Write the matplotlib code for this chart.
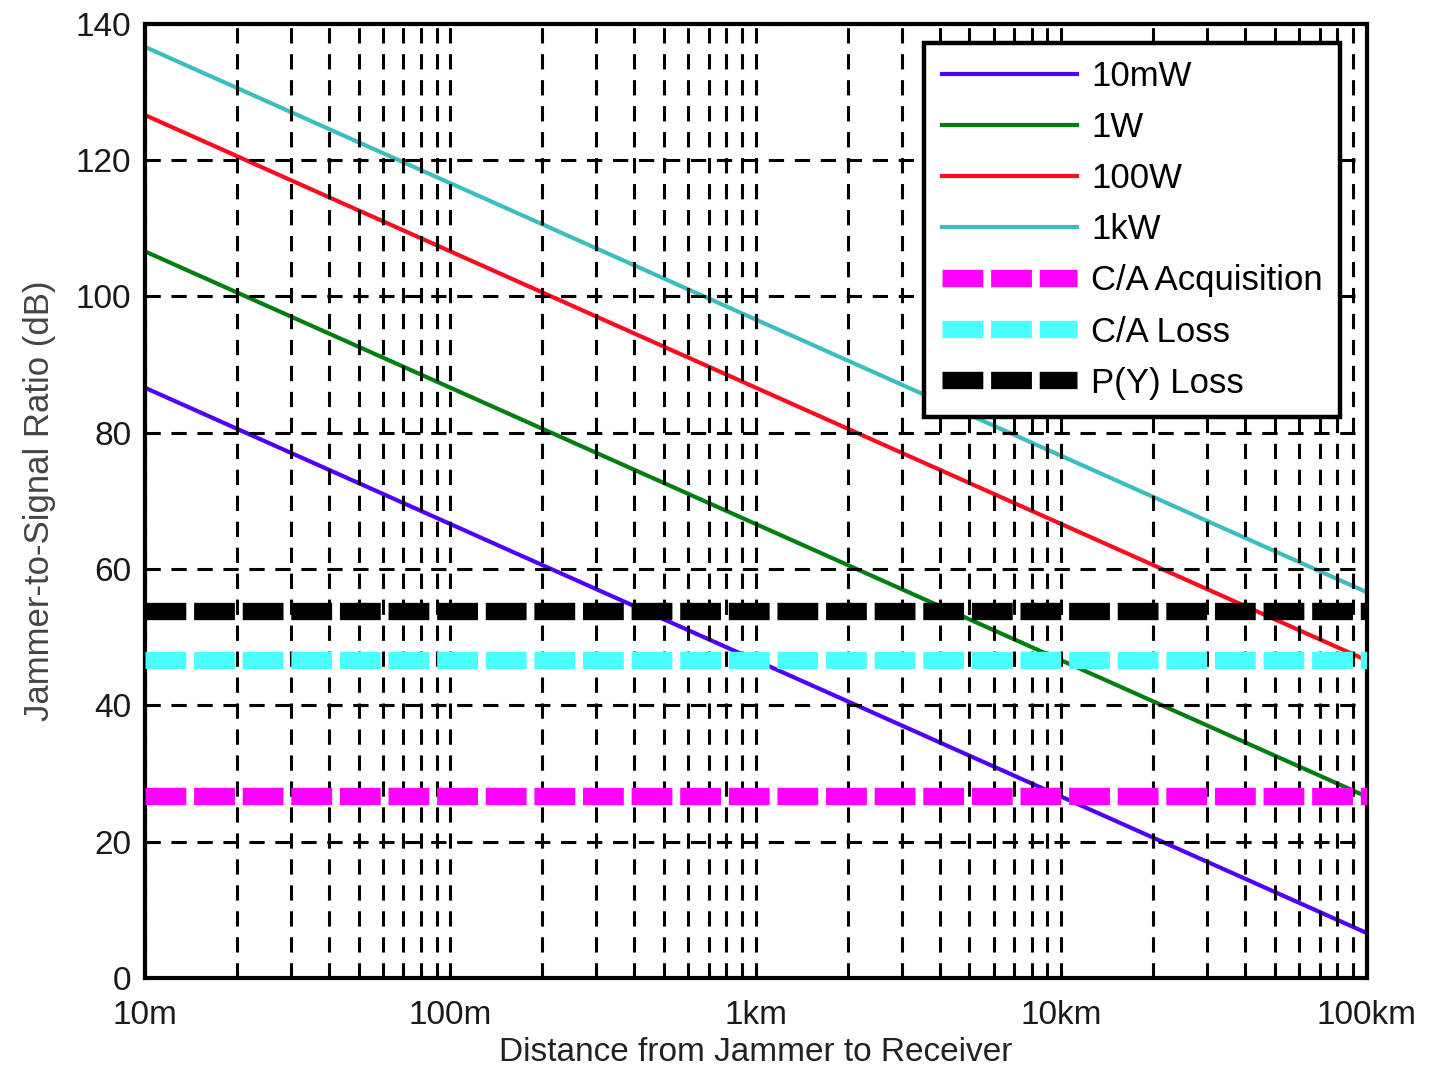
import numpy as np
from matplotlib import pyplot as plt
from matplotlib.ticker import FixedLocator, LogLocator, NullFormatter

#%% Datos

dist = [10, 100, 1000, 10000, 100000]   # metros
js_10mW = [86.6, 66.6, 46.6, 26.6, 6.6]
js_1W = [106.6, 86.6, 66.6, 46.6, 26.6]
js_100W = [126.6, 106.6, 86.6, 66.6, 46.6]
js_1kW = [136.6, 116.6, 96.6, 76.6, 56.6]

ca_acq = 26.7
ca_loss = 46.7
py_loss = 53.9

xticks = [10, 100, 1000, 10000, 100000]
xticklabels = ['10m', '100m', '1km', '10km', '100km']
yticks = [0, 20, 40, 60, 80, 100, 120, 140]

#%% Grafico

plt.rcParams['font.family'] = ['Liberation Sans', 'DejaVu Sans']

fig = plt.figure(figsize=(14.29, 10.71), dpi=100)
ax = fig.add_axes([0.1015, 0.0868, 0.855, 0.891])

ax.semilogx(dist, js_10mW, color='#5000ff', lw=3, label='10mW')
ax.semilogx(dist, js_1W, color='#007f10', lw=3, label='1W')
ax.semilogx(dist, js_100W, color='#ff0a1e', lw=3, label='100W')
ax.semilogx(dist, js_1kW, color='#3cbec0', lw=3, label='1kW')

thick = dict(lw=12.5, dashes=(2.35, 0.45), zorder=3, solid_capstyle='butt')
ax.axhline(ca_acq, color='#ff00ff', label='C/A Acquisition', **thick)
ax.axhline(ca_loss, color='#4cffff', label='C/A Loss', **thick)
ax.axhline(py_loss, color='black', label='P(Y) Loss', **thick)

ax.set_xlim(10, 100000)
ax.set_ylim(0, 140)
ax.xaxis.set_major_locator(FixedLocator(xticks))
ax.set_xticklabels(xticklabels)
ax.xaxis.set_minor_locator(LogLocator(base=10, subs=np.arange(2, 10)))
ax.xaxis.set_minor_formatter(NullFormatter())
ax.set_yticks(yticks)

ax.set_axisbelow(False)
ax.grid(True, which='both', color='black', lw=2.2, dashes=(5, 3.5))
ax.tick_params(which='both', direction='in', length=5, width=2,
               labelsize=24, labelcolor='#1a1a1a')
ax.tick_params(axis='x', pad=16)
ax.tick_params(axis='y', pad=10)
for s in ax.spines.values():
    s.set_linewidth(3)

ax.set_xlabel('Distance from Jammer to Receiver', fontsize=24, color='#222222', labelpad=4)
ax.set_ylabel('Jammer-to-Signal Ratio (dB)', fontsize=25, color='#444444', labelpad=14)

leg = ax.legend(loc='upper right', bbox_to_anchor=(0.978, 0.98), fontsize=25,
                fancybox=False, framealpha=1, edgecolor='black',
                handlelength=3.9, labelspacing=0.52, borderpad=0.5,
                handletextpad=0.4, borderaxespad=0)
leg.get_frame().set_linewidth(3.2)
leg.set_zorder(5)

plt.savefig('out.png', dpi=100)
